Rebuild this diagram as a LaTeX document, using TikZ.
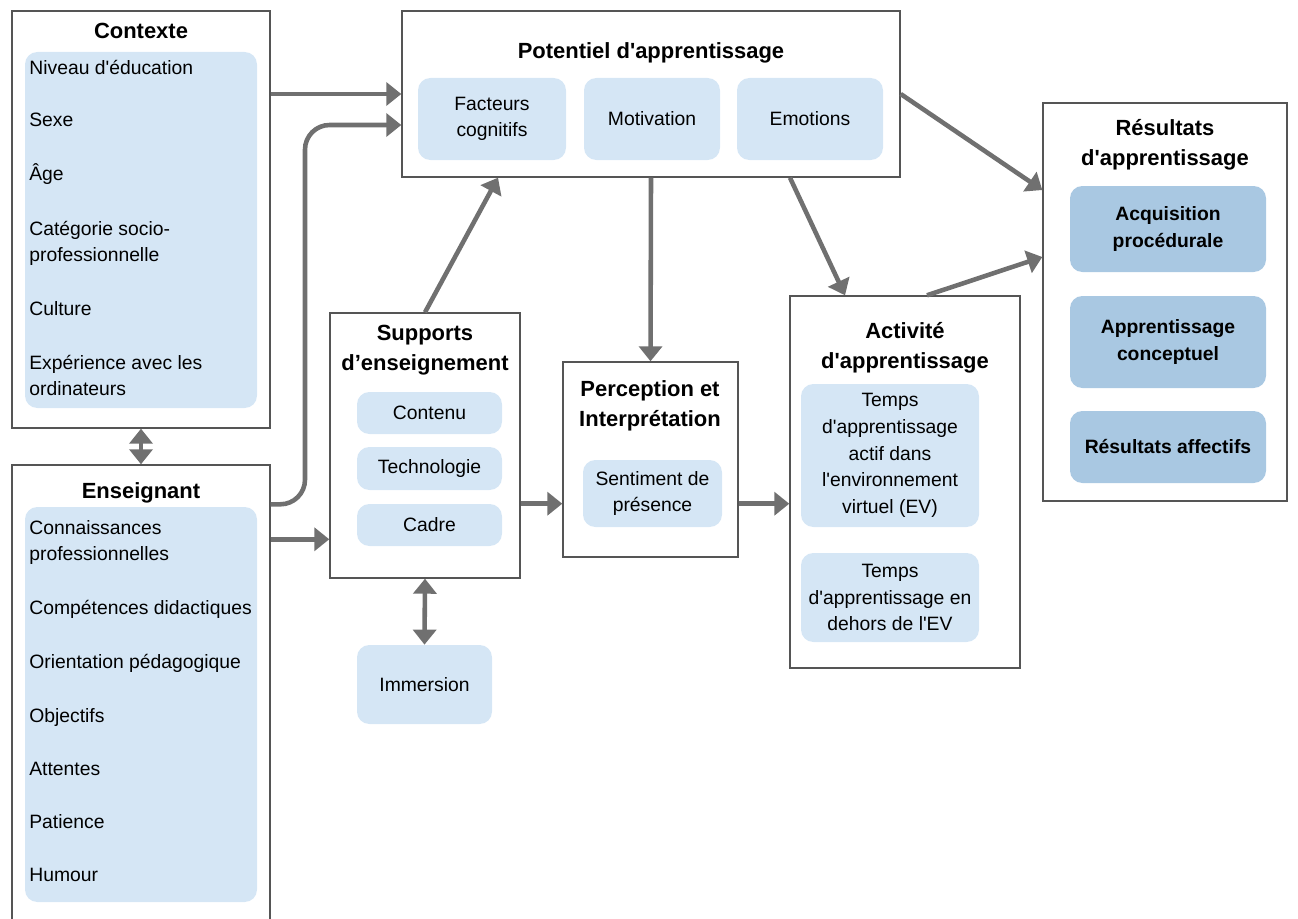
\documentclass[tikz,border=0pt]{standalone}
\usepackage{fontspec}
\setmainfont{Liberation Sans}[Ligatures=TeXOff]
\usetikzlibrary{positioning,fit,arrows.meta}
\definecolor{cadre}{HTML}{555555}
\definecolor{bleuclair}{HTML}{D5E6F5}
\definecolor{bleufonce}{HTML}{A9C8E2}
\definecolor{fleche}{HTML}{707070}

\begin{document}
\begin{tikzpicture}[x=0.02cm, y=-0.02cm, nodes = {align = center},
    bloc/.style = {draw=cadre, line width=0.8pt, inner sep=0pt},
    case/.style = {fill=bleuclair, rounded corners=7pt, inner sep=0pt},
    casefonce/.style = {fill=bleufonce, rounded corners=7pt, inner sep=0pt},
    titre/.style = {font=\fontsize{12.5}{17}\selectfont\bfseries},
    texte/.style = {font=\fontsize{11}{15.2}\selectfont},
    etiq/.style = {texte},
    fl/.style = {-{Triangle[length=0.3cm,width=0.46cm]}, line width=2.6pt, color=fleche},
    dfl/.style = {{Triangle[length=0.3cm,width=0.46cm]}-{Triangle[length=0.3cm,width=0.46cm]}, line width=2.6pt, color=fleche}]
    \useasboundingbox (0,0) rectangle (1298,919);

    % contexte et enseignant
    \node (contexte) [bloc, fit={(12,11) (270,428)}] {};
    \node (contextetitre) [titre, anchor=base] at (141,39) {Contexte};
    \node (contextecase) [case, fit={(25,52) (257,408)}] {};
    \foreach \y/\txt in {75/Niveau d'éducation, 127/Sexe, 180/Âge, 235/Catégorie socio-,
        261/professionnelle, 315/Culture, 369/Expérience avec les, 395/ordinateurs}
        \node (ctx-\y) [texte, anchor=base west, inner sep=0pt] at (29,\y) {\txt};
    \node (enseignant) [bloc, fit={(12,465) (270,940)}] {};
    \node (enseignanttitre) [titre, anchor=base] at (141,498) {Enseignant};
    \node (enseignantcase) [case, fit={(25,507) (257,902)}] {};
    \foreach \y/\txt in {534/Connaissances, 560/professionnelles, 614/Compétences didactiques,
        668/Orientation pédagogique, 722/Objectifs, 775/Attentes, 828/Patience, 881/Humour}
        \node (ens-\y) [texte, anchor=base west, inner sep=0pt] at (29,\y) {\txt};

    % potentiel
    \node (potentiel) [bloc, fit={(402,11) (900,177)}] {};
    \node (potentieltitre) [titre, anchor=base] at (651,59) {Potentiel d'apprentissage};
    \node (facteurs) [case, fit={(418,78) (566,160)}] {};
    \node (motivation) [case, fit={(584,78) (720,160)}] {};
    \node (emotions) [case, fit={(737,78) (883,160)}] {};
    \node (facteurstxt) [etiq] at (facteurs) {Facteurs\\ cognitifs};
    \node (motivationtxt) [etiq] at (motivation) {Motivation};
    \node (emotionstxt) [etiq] at (emotions) {Emotions};

    % supports
    \node (supports) [bloc, fit={(330,313) (520,578)}] {};
    \node (supportstitre) [titre] at (425,350) {Supports\\ d’enseignement};
    \node (contenu) [case, fit={(357,392) (502,434)}] {};
    \node (technologie) [case, fit={(357,447) (502,490)}] {};
    \node (cadre) [case, fit={(357,504) (502,546)}] {};
    \node (immersion) [case, fit={(357,645) (492,724)}] {};
    \node (contenutxt) [etiq] at (contenu) {Contenu};
    \node (technologietxt) [etiq] at (technologie) {Technologie};
    \node (cadretxt) [etiq] at (cadre) {Cadre};
    \node (immersiontxt) [etiq] at (immersion) {Immersion};

    % perception
    \node (perception) [bloc, fit={(563,362) (738,557)}] {};
    \node (perceptiontitre) [titre] at (650,406) {Perception et\\ Interprétation};
    \node (sentiment) [case, fit={(583,460) (722,527)}] {};
    \node (sentimenttxt) [etiq] at (sentiment) {Sentiment de\\ présence};

    % activite
    \node (activite) [bloc, fit={(790,296) (1020,668)}] {};
    \node (activitetitre) [titre] at (905,348) {Activité\\ d'apprentissage};
    \node (tempsactif) [case, fit={(801,384) (979,527)}] {};
    \node (tempsdehors) [case, fit={(801,553) (979,642)}] {};
    \node (tempsactiftxt) [etiq] at (tempsactif) {Temps\\ d'apprentissage\\ actif dans\\ l'environnement\\ virtuel (EV)};
    \node (tempsdehorstxt) [etiq] at (tempsdehors) {Temps\\ d'apprentissage en\\ dehors de l'EV};

    % resultats
    \node (resultats) [bloc, fit={(1043,103) (1287,501)}] {};
    \node (resultatstitre) [titre] at (1165,145) {Résultats\\ d'apprentissage};
    \node (procedurale) [casefonce, fit={(1070,186) (1266,272)}] {};
    \node (conceptuel) [casefonce, fit={(1070,296) (1266,388)}] {};
    \node (affectifs) [casefonce, fit={(1070,411) (1266,483)}] {};
    \node (proceduraletxt) [etiq, font=\fontsize{11}{15.2}\selectfont\bfseries] at (procedurale) {Acquisition\\ procédurale};
    \node (conceptueltxt) [etiq, font=\fontsize{11}{15.2}\selectfont\bfseries] at (conceptuel) {Apprentissage\\ conceptuel};
    \node (affectifstxt) [etiq, font=\fontsize{11}{15.2}\selectfont\bfseries] at (affectifs) {Résultats affectifs};

    \coordinate (enshaut) at ([yshift=-0.8cm]enseignant.north east);
    \coordinate (ensbas) at ([yshift=-1.5cm]enseignant.north east);
    \coordinate (percin) at ([yshift=1.08cm]perception.south west);
    \coordinate (percout) at ([yshift=1.08cm]perception.south east);

    \draw[fl] (contexte.east |- potentiel.west) -- (potentiel.west);
    \draw[fl, rounded corners=14pt] (enshaut) -| (305,125) -- (potentiel.west |- 0,125);
    \draw[dfl] (contexte.south) -- (enseignant.north);
    \draw[fl] (ensbas) -- (supports.west |- ensbas);
    \draw[fl] (supports.north) -- ([xshift=-3.06cm]potentiel.south);
    \draw[dfl] (supports.south) -- (immersion.north);
    \draw[fl] (supports.east |- percin) -- (percin);
    \draw[fl] (potentiel.south) -- (perception.north);
    \draw[fl] (percout) -- (activite.west |- percout);
    \draw[fl] ([xshift=2.78cm]potentiel.south) -- ([xshift=-1.2cm]activite.north);
    \draw[fl] (potentiel.east) -- ([yshift=2.24cm]resultats.west);
    \draw[fl] ([xshift=0.44cm]activite.north) -- ([yshift=0.9cm]resultats.west);
\end{tikzpicture}
\end{document}
